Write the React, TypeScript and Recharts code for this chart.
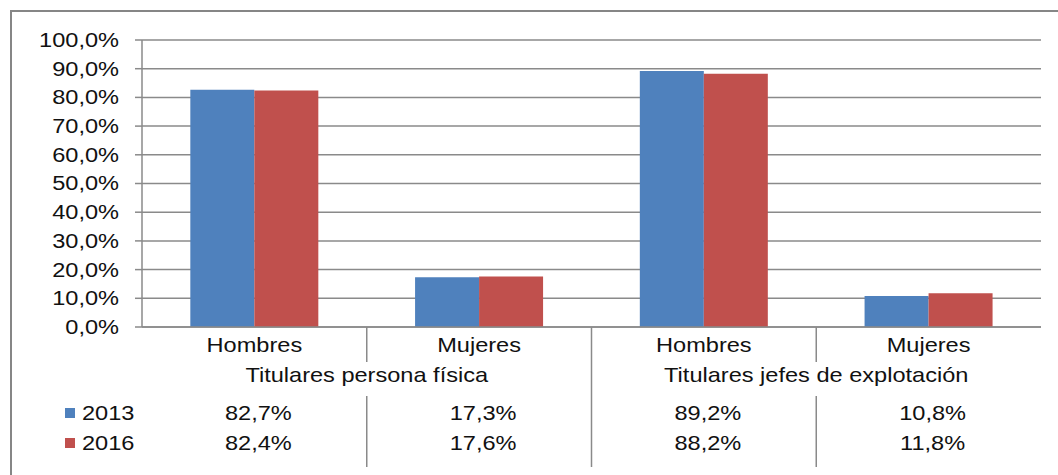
import { BarChart, Bar, XAxis, YAxis, CartesianGrid } from 'recharts';

const categories = ['Hombres', 'Mujeres', 'Hombres', 'Mujeres'];
const groups = ['Titulares persona física', 'Titulares jefes de explotación'];
const seriesNames = ['2013', '2016'];
const values2013 = [82.7, 17.3, 89.2, 10.8];
const values2016 = [82.4, 17.6, 88.2, 11.8];
const yTicks = [0, 10, 20, 30, 40, 50, 60, 70, 80, 90, 100];

const BLUE = '#4F81BD';
const RED = '#C0504D';
const GRID = '#8a8a8a';
const FONT = '"Liberation Sans", Arial, sans-serif';

const data = categories.map((c, i) => ({
  key: `${c}-${i}`,
  s2013: values2013[i],
  s2016: values2016[i]
}));

const pct = (v: number) => v.toFixed(1).replace('.', ',') + '%';

// Excel text in the picture is a bit stretched horizontally
function Txt({ x, y, anchor = 'middle', children }: any) {
  return (
    <text
      x={x}
      y={y}
      textAnchor={anchor}
      fontSize={20.5}
      fontFamily={FONT}
      fill="#111"
      transform={`translate(${x} ${y}) scale(1.15 1) translate(${-x} ${-y})`}
    >
      {children}
    </text>
  );
}

function YTick({ x, y, payload }: any) {
  return (
    <Txt x={x} y={y + 7} anchor="end">
      {pct(payload.value)}
    </Txt>
  );
}

function TableTick(props: any) {
  const { x, y, payload, width, visibleTicksCount } = props;
  const i = payload.index ?? props.index;
  const band = width && visibleTicksCount ? width / visibleTicksCount : 224.75;
  const left = x - band / 2;
  const colors = [BLUE, RED];
  const rows = [values2013, values2016];
  return (
    <g>
      <Txt x={x} y={y + 25}>{categories[i]}</Txt>
      {i % 2 === 0 && <Txt x={x + band / 2} y={y + 55}>{groups[i / 2]}</Txt>}
      {i > 0 && i % 2 === 0 && (
        <line x1={left} x2={left} y1={y} y2={y + 140} stroke={GRID} strokeWidth={1.5} />
      )}
      {i % 2 === 1 && (
        <g>
          <line x1={left} x2={left} y1={y} y2={y + 35} stroke={GRID} strokeWidth={1.5} />
          <line x1={left} x2={left} y1={y + 69} y2={y + 140} stroke={GRID} strokeWidth={1.5} />
        </g>
      )}
      {rows.map((r, k) => (
        <Txt key={k} x={x + 4} y={y + 93 + k * 30}>{pct(r[i])}</Txt>
      ))}
      {i === 0 &&
        seriesNames.map((n, k) => (
          <g key={n}>
            <rect x={left - 77} y={y + 81 + k * 30} width={10} height={10} fill={colors[k]} />
            <Txt x={left - 60} y={y + 93 + k * 30} anchor="start">{n}</Txt>
          </g>
        ))}
    </g>
  );
}

export default function App() {
  return (
    <div style={{ position: 'relative', width: 1058, height: 475, overflow: 'hidden', background: '#fff' }}>
      <style>{'body{margin:0}'}</style>
      <div
        style={{
          position: 'absolute',
          left: 10,
          top: 10,
          width: 1100,
          height: 500,
          border: '2px solid #868686',
          boxSizing: 'border-box'
        }}
      />
      <div style={{ position: 'absolute', left: 0, top: 0 }}>
        <BarChart
          width={1058}
          height={475}
          data={data}
          margin={{ top: 40, right: 17, left: 0, bottom: 0 }}
          barCategoryGap="21.5%"
          barGap={0}
        >
          <CartesianGrid vertical={false} stroke={GRID} strokeWidth={1.5} />
          <XAxis
            dataKey="key"
            height={148}
            interval={0}
            tickLine={false}
            tickSize={0}
            tickMargin={0}
            axisLine={{ stroke: GRID, strokeWidth: 1.5 }}
            tick={<TableTick />}
          />
          <YAxis
            width={142}
            domain={[0, 100]}
            ticks={yTicks}
            interval={0}
            tickSize={7}
            tickMargin={16}
            tickLine={{ stroke: GRID, strokeWidth: 1.5 }}
            axisLine={{ stroke: GRID, strokeWidth: 1.5 }}
            tick={<YTick />}
          />
          <Bar dataKey="s2013" fill={BLUE} isAnimationActive={false} />
          <Bar dataKey="s2016" fill={RED} isAnimationActive={false} />
        </BarChart>
      </div>
    </div>
  );
}
